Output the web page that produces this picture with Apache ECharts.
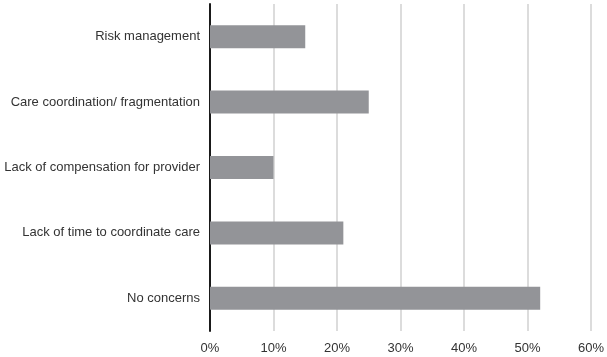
<!DOCTYPE html>
<html>
<head>
<meta charset="utf-8">
<script src="https://cdn.jsdelivr.net/npm/echarts@6/dist/echarts.min.js"></script>
<style>
  html, body { margin: 0; padding: 0; background: #fff; }
  #chart { width: 607px; height: 357px; }
</style>
</head>
<body>
<div id="chart"></div>
<script>
// categories, top to bottom as in the figure
var categories = [
    'Risk management',
    'Care coordination/ fragmentation',
    'Lack of compensation for provider',
    'Lack of time to coordinate care',
    'No concerns'
];
// percent of respondents
var values = [15, 25, 10, 21, 52];
var xTicks = [0, 10, 20, 30, 40, 50, 60];

var myChart = echarts.init(document.getElementById('chart'));

var option = {
    animation: false,
    backgroundColor: '#ffffff',
    textStyle: { fontFamily: 'Liberation Sans, Arial, sans-serif' },
    grid: {
        left: 210,
        right: 16,
        top: 4,
        bottom: 26,
        containLabel: false
    },
    xAxis: {
        type: 'value',
        min: xTicks[0],
        max: xTicks[xTicks.length - 1],
        interval: 10,
        axisLine: { show: false },
        axisTick: { show: false },
        splitLine: { show: true, lineStyle: { color: '#dcdcdc', width: 2 } },
        axisLabel: {
            color: '#333333',
            fontSize: 13,
            margin: 11,
            formatter: function (v) { return v + '%'; }
        }
    },
    yAxis: {
        type: 'category',
        inverse: true,
        data: categories,
        axisLine: { show: true, lineStyle: { color: '#1a1a1a', width: 2 } },
        axisTick: { show: false },
        axisLabel: {
            color: '#333333',
            fontSize: 13,
            margin: 10
        }
    },
    series: [{
        type: 'bar',
        data: values,
        barWidth: 23,
        itemStyle: { color: '#939498' },
        z: 1
    }]
};

myChart.setOption(option);
</script>
</body>
</html>
